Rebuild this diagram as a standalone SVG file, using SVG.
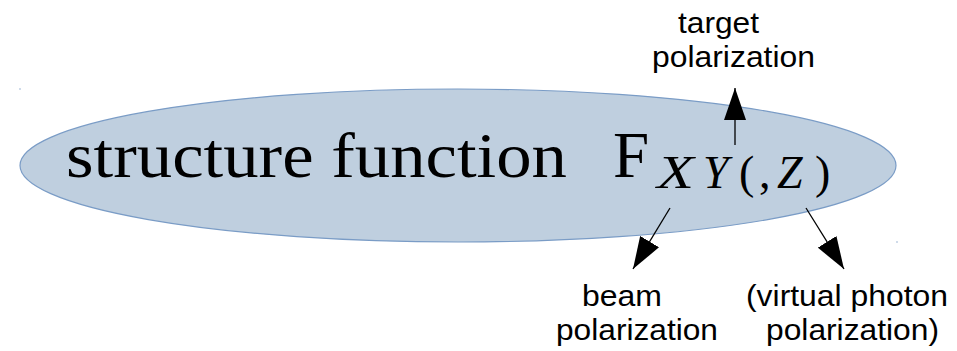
<svg xmlns="http://www.w3.org/2000/svg" width="957" height="351" viewBox="0 0 957 351">
<style>
.lbl{font-family:"Liberation Sans",Arial,sans-serif;font-size:30px;fill:#000}
.ser{font-family:"Liberation Serif","Times New Roman",serif;fill:#000}
.con{stroke:#000;stroke-width:1.3;fill:none;marker-end:url(#ah)}
</style>
<defs>
<marker id="ah" viewBox="0 0 32 22" markerWidth="32" markerHeight="22" refX="32" refY="11" orient="auto" markerUnits="userSpaceOnUse">
<path d="M0,0 L32,11 L0,22 z" fill="#000"/>
</marker>
</defs>
<rect width="957" height="351" fill="#fff"/>
<g id="sf">
<ellipse cx="458" cy="165.5" rx="438" ry="76.5" fill="#bfcfdf" stroke="#7a9cc6" stroke-width="1.2"/>
<circle cx="20" cy="89" r="0.7" fill="#7a9cc6"/>
<circle cx="897" cy="242" r="0.7" fill="#7a9cc6"/>
<text class="ser" x="66" y="177" font-size="64" textLength="501" lengthAdjust="spacingAndGlyphs">structure function</text>
<text class="ser" x="613" y="177" font-size="65">F</text>
<text class="ser" y="188" font-size="46"><tspan x="657" font-style="italic" textLength="37" lengthAdjust="spacingAndGlyphs">X</tspan><tspan x="703" font-style="italic">Y</tspan><tspan x="739">(</tspan><tspan x="759">,</tspan><tspan x="777" font-style="italic">Z</tspan><tspan x="815">)</tspan></text>
</g>
<g id="target">
<text class="lbl"><tspan x="678" y="33" textLength="81" lengthAdjust="spacingAndGlyphs">target</tspan><tspan x="652" y="67" textLength="163" lengthAdjust="spacingAndGlyphs">polarization</tspan></text>
</g>
<g id="beam">
<text class="lbl"><tspan x="582" y="306" textLength="80" lengthAdjust="spacingAndGlyphs">beam</tspan><tspan x="556" y="340" textLength="162" lengthAdjust="spacingAndGlyphs">polarization</tspan></text>
</g>
<g id="photon">
<text class="lbl"><tspan x="746" y="306" textLength="202" lengthAdjust="spacingAndGlyphs">(virtual photon</tspan><tspan x="766" y="340" textLength="173" lengthAdjust="spacingAndGlyphs">polarization)</tspan></text>
</g>
<g id="connectors">
<line class="con" x1="735" y1="145" x2="735" y2="88"/>
<line class="con" x1="670" y1="208" x2="633" y2="269"/>
<line class="con" x1="806" y1="208" x2="844" y2="269"/>
</g>
</svg>
